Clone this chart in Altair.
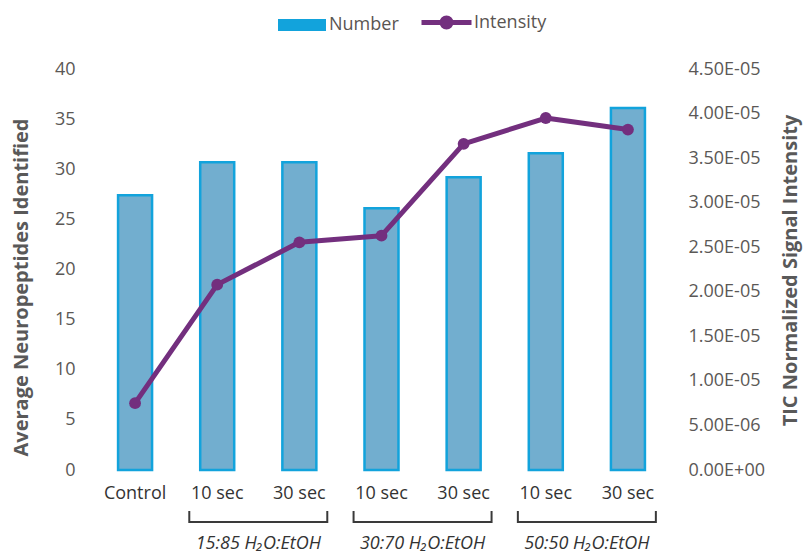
import json

import altair as alt
import pandas as pd

# Categories along the x axis (one bar + one line point each)
tick_labels = ["Control", "10 sec", "30 sec", "10 sec", "30 sec", "10 sec", "30 sec"]
# Average number of neuropeptides identified (bars, left axis)
neuropeptides = [27.4, 30.7, 30.7, 26.1, 29.2, 31.6, 36.1]
# TIC normalized signal intensity (line, right axis)
intensity = [7.5e-6, 2.08e-5, 2.555e-5, 2.63e-5, 3.66e-5, 3.95e-5, 3.82e-5]
series_names = ["Number", "Intensity"]

# Solvent groups drawn as brackets under the x labels
group_names = ["15:85 H\u2082O:EtOH", "30:70 H\u2082O:EtOH", "50:50 H\u2082O:EtOH"]
group_first = [1, 3, 5]
group_last = [2, 4, 6]

left_ticks = [0, 5, 10, 15, 20, 25, 30, 35, 40]
right_ticks = [0, 5e-6, 1e-5, 1.5e-5, 2e-5, 2.5e-5, 3e-5, 3.5e-5, 4e-5, 4.5e-5]

BAR_FILL = "#72AECF"
BAR_EDGE = "#12A3DC"
PURPLE = "#732F7E"
FONT = "Open Sans, Noto Sans, sans-serif"
TICK_GRAY = "#5B5856"
TITLE_GRAY = "#595959"
LEGEND_GRAY = "#5A5552"
DARK = "#333333"

W, H = 575, 401
n_cat = len(tick_labels)

df = pd.DataFrame({
    "idx": list(range(n_cat)),
    "number": neuropeptides,
    "intensity": intensity,
    "bar_series": [series_names[0]] * n_cat,
    "line_series": [series_names[1]] * n_cat,
})

# bracket ends extend a little beyond the centres of the two grouped categories
reach = 0.34
groups = pd.DataFrame({
    "name": group_names,
    "left": [f + 0.5 - reach for f in group_first],
    "right": [l + 0.5 + reach for l in group_last],
})
groups["mid"] = (groups["left"] + groups["right"]) / 2

x_enc = alt.X(
    "idx:O",
    scale=alt.Scale(paddingInner=0.586, paddingOuter=0.293),
    axis=alt.Axis(
        title=None,
        labelExpr=json.dumps(tick_labels) + "[datum.value]",
        labelAngle=0,
        labelFont=FONT,
        labelFontSize=18,
        labelColor=DARK,
        labelPadding=14,
        ticks=False,
        domain=False,
        grid=False,
    ),
)

bars = alt.Chart(df).mark_bar(fill=BAR_FILL, strokeWidth=2.5).encode(
    x=x_enc,
    y=alt.Y(
        "number:Q",
        scale=alt.Scale(domain=[0, 40], nice=False),
        axis=alt.Axis(
            title="Average Neuropeptides Identified",
            values=left_ticks,
            orient="left",
            labelFont=FONT,
            labelFontSize=18,
            labelColor=TICK_GRAY,
            labelPadding=19,
            ticks=False,
            domain=False,
            grid=False,
            titleFont=FONT,
            titleFontSize=20,
            titleFontWeight="bold",
            titleColor=TITLE_GRAY,
            titleAngle=270,
            titleAlign="center",
            titleBaseline="middle",
            titleX=-73,
            titleY=218,
        ),
    ),
    stroke=alt.Stroke(
        "bar_series:N",
        scale=alt.Scale(domain=[series_names[0]], range=[BAR_EDGE]),
        legend=alt.Legend(
            title=None,
            orient="none",
            legendX=172,
            legendY=-74,
            padding=0,
            symbolType="M-0.75,0H1.25",
            symbolSize=2304,
            symbolStrokeWidth=12,
            labelFont=FONT,
            labelFontSize=18,
            labelColor=LEGEND_GRAY,
            labelOffset=3,
        ),
    ),
)

y_right = alt.Scale(domain=[0, 4.5e-5], nice=False)

line = alt.Chart(df).mark_line(strokeWidth=5, strokeJoin="round").encode(
    x="idx:O",
    y=alt.Y(
        "intensity:Q",
        scale=y_right,
        axis=alt.Axis(
            title="TIC Normalized Signal Intensity",
            orient="right",
            values=right_ticks,
            labelExpr="replace(replace(format(datum.value, '.2e'), 'e-', 'E-0'), 'e+', 'E+0')",
            labelFont=FONT,
            labelFontSize=18,
            labelColor=TICK_GRAY,
            labelPadding=19,
            ticks=False,
            domain=False,
            grid=False,
            titleFont=FONT,
            titleFontSize=20,
            titleFontWeight="bold",
            titleColor=TITLE_GRAY,
            titleAngle=270,
            titleAlign="center",
            titleBaseline="middle",
            titleX=121,
            titleY=201,
        ),
    ),
    stroke=alt.Stroke(
        "line_series:N",
        scale=alt.Scale(domain=[series_names[1]], range=[PURPLE]),
        legend=alt.Legend(
            title=None,
            orient="none",
            legendX=325,
            legendY=-74,
            padding=0,
            symbolType="M-1,0H1M0.18,0A0.18,0.18 0 1 1 -0.18,0A0.18,0.18 0 1 1 0.18,0"
                       "M0.05,0A0.05,0.05 0 1 1 -0.05,0A0.05,0.05 0 1 1 0.05,0",
            symbolSize=2500,
            symbolStrokeWidth=5,
            labelFont=FONT,
            labelFontSize=18,
            labelColor=LEGEND_GRAY,
            labelOffset=0,
        ),
    ),
)

dots = alt.Chart(df).mark_circle(size=140, color=PURPLE, opacity=1).encode(
    x="idx:O",
    y=alt.Y("intensity:Q", scale=y_right, axis=None),
)

main = (
    alt.layer(bars, line, dots)
    .resolve_scale(y="independent", stroke="independent")
    .resolve_legend(stroke="independent")
)

# brackets and solvent labels beneath the category labels
bx = alt.Scale(domain=[0, n_cat], nice=False, zero=False)
BR_Y = 453
BR_TOP = 442
BR_COLOR = "#3A3A3A"

bracket_base = alt.Chart(groups)
bracket_h = bracket_base.mark_rule(strokeWidth=2, color=BR_COLOR).encode(
    x=alt.X("left:Q", scale=bx, axis=None),
    x2="right:Q",
    y=alt.value(BR_Y),
)
bracket_l = bracket_base.mark_rule(strokeWidth=2, color=BR_COLOR).encode(
    x=alt.X("left:Q", scale=bx, axis=None),
    y=alt.value(BR_TOP),
    y2=alt.value(BR_Y + 1),
)
bracket_r = bracket_base.mark_rule(strokeWidth=2, color=BR_COLOR).encode(
    x=alt.X("right:Q", scale=bx, axis=None),
    y=alt.value(BR_TOP),
    y2=alt.value(BR_Y + 1),
)
bracket_text = bracket_base.mark_text(
    font=FONT, fontSize=18, fontStyle="italic", color=DARK, baseline="middle", align="center"
).encode(
    x=alt.X("mid:Q", scale=bx, axis=None),
    y=alt.value(475),
    text="name:N",
)

brackets = alt.layer(bracket_h, bracket_l, bracket_r, bracket_text)

chart = (
    alt.layer(main, brackets)
    .resolve_scale(x="independent")
    .properties(
        width=W,
        height=H,
        autosize=alt.AutoSizeParams(type="none"),
        padding={"left": 94, "top": 69, "right": 803 - 94 - W, "bottom": 559 - 69 - H},
        background="white",
    )
    .configure_view(stroke=None)
)

chart.save("out.html", embed_options={"renderer": "svg", "actions": False})
